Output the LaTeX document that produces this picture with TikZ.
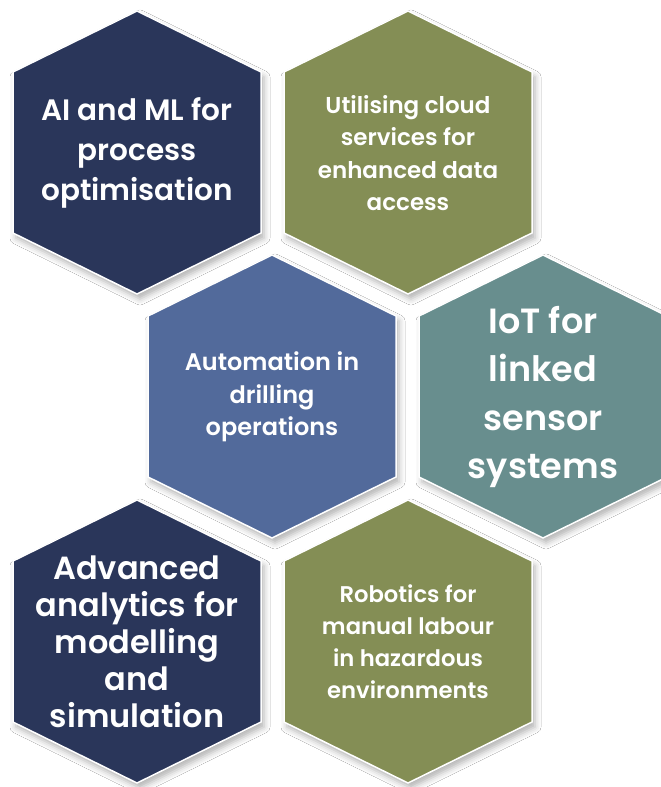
\documentclass[tikz,border=0pt]{standalone}
\usepackage{fontspec}
\setmainfont{Poppins}[BoldFont={Poppins SemiBold}]
\usetikzlibrary{shadows.blur}
\definecolor{hexnavy}{RGB}{42,54,90}
\definecolor{hexolive}{RGB}{132,142,85}
\definecolor{hexblue}{RGB}{82,106,155}
\definecolor{hexteal}{RGB}{104,142,142}
\tikzset{
  hex/.style={draw=white, line width=1.5pt, line join=miter,
    blur shadow={shadow xshift=3pt, shadow yshift=-5pt, shadow blur radius=6pt, shadow opacity=30}},
  hextext/.style={text=white, align=center, inner sep=0pt}
}
\begin{document}
\begin{tikzpicture}[x=1pt, y=-1pt]
\fill[white] (0,0) rectangle (661,787);
\useasboundingbox (0,0) rectangle (661,787);
% centres of the six cells
\coordinate (hai) at (137,153);
\coordinate (hcloud) at (408,153);
\coordinate (hauto) at (272,397);
\coordinate (hiot) at (543,397);
\coordinate (hana) at (137,642);
\coordinate (hrob) at (408,642);
% cells, pointy top
\filldraw[hex, fill=hexnavy] (hai) ++(0,-142) -- ++(124,61) -- ++(0,161) -- ++(-124,61) -- ++(-124,-61) -- ++(0,-161) -- cycle;
\filldraw[hex, fill=hexolive] (hcloud) ++(0,-142) -- ++(124,61) -- ++(0,161) -- ++(-124,61) -- ++(-124,-61) -- ++(0,-161) -- cycle;
\filldraw[hex, fill=hexblue] (hauto) ++(0,-142) -- ++(124,61) -- ++(0,161) -- ++(-124,61) -- ++(-124,-61) -- ++(0,-161) -- cycle;
\filldraw[hex, fill=hexteal] (hiot) ++(0,-142) -- ++(124,61) -- ++(0,161) -- ++(-124,61) -- ++(-124,-61) -- ++(0,-161) -- cycle;
\filldraw[hex, fill=hexnavy] (hana) ++(0,-142) -- ++(124,61) -- ++(0,161) -- ++(-124,61) -- ++(-124,-61) -- ++(0,-161) -- cycle;
\filldraw[hex, fill=hexolive] (hrob) ++(0,-142) -- ++(124,61) -- ++(0,161) -- ++(-124,61) -- ++(-124,-61) -- ++(0,-161) -- cycle;
% labels
\node[hextext, font=\bfseries\fontsize{29.5}{40}\selectfont] (tai) at (hai) {AI and ML for\\process\\optimisation};
\node[hextext, font=\bfseries\fontsize{23}{32.5}\selectfont] (tcloud) at (hcloud) {Utilising cloud\\services for\\enhanced data\\access};
\node[hextext, font=\bfseries\fontsize{24}{32.5}\selectfont] (tauto) at (hauto) {Automation in\\drilling\\operations};
\node[hextext, font=\bfseries\fontsize{35}{48.5}\selectfont] (tiot) at (hiot) {IoT for\\linked\\sensor\\systems};
\node[hextext, font=\bfseries\fontsize{32}{37}\selectfont] (tana) at (hana) {Advanced\\analytics for\\modelling\\and\\simulation};
\node[hextext, font=\bfseries\fontsize{22.7}{32}\selectfont] (trob) at (hrob) {Robotics for\\manual labour\\in hazardous\\environments};
\end{tikzpicture}
\end{document}
